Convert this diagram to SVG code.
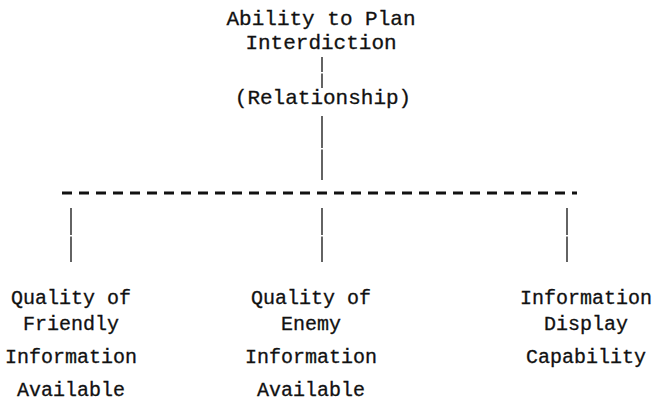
<svg xmlns="http://www.w3.org/2000/svg" width="653" height="408" viewBox="0 0 653 408">
<style>
text{font-family:"Liberation Mono","DejaVu Sans Mono",monospace;font-size:20px;fill:#111;stroke:#111;stroke-width:0.3;text-anchor:middle}
.t{font-size:21px}
.v{stroke:#222;stroke-width:1.4;fill:none}
.d{stroke:#111;stroke-width:3;stroke-dasharray:10 7;fill:none}
</style>
<rect width="653" height="408" fill="#fff"/>
<g id="top"><text class="t" x="321" y="25">Ability to Plan</text><text class="t" x="321" y="49">Interdiction</text></g>
<g id="rel"><text class="t" x="323" y="104">(Relationship)</text></g>
<g id="n1"><text x="71" y="304">Quality of</text><text x="71" y="330">Friendly</text><text x="71" y="363">Information</text><text x="71" y="396">Available</text></g>
<g id="n2"><text x="311" y="304">Quality of</text><text x="311" y="330">Enemy</text><text x="311" y="363">Information</text><text x="311" y="396">Available</text></g>
<g id="n3"><text x="586" y="304">Information</text><text x="586" y="330">Display</text><text x="586" y="363">Capability</text></g>
<g id="connectors">
<line class="v" x1="322" y1="57" x2="322" y2="72"/>
<line class="v" x1="322" y1="73.5" x2="322" y2="88"/>
<line class="v" x1="322" y1="116" x2="322" y2="148"/>
<line class="v" x1="322" y1="149.5" x2="322" y2="180"/>
<line class="d" x1="62" y1="193" x2="577" y2="193"/>
<line class="v" x1="71" y1="208" x2="71" y2="235"/>
<line class="v" x1="71" y1="236.5" x2="71" y2="262"/>
<line class="v" x1="322" y1="208" x2="322" y2="235"/>
<line class="v" x1="322" y1="236.5" x2="322" y2="262"/>
<line class="v" x1="567" y1="208" x2="567" y2="235"/>
<line class="v" x1="567" y1="236.5" x2="567" y2="262"/>
</g>
</svg>
